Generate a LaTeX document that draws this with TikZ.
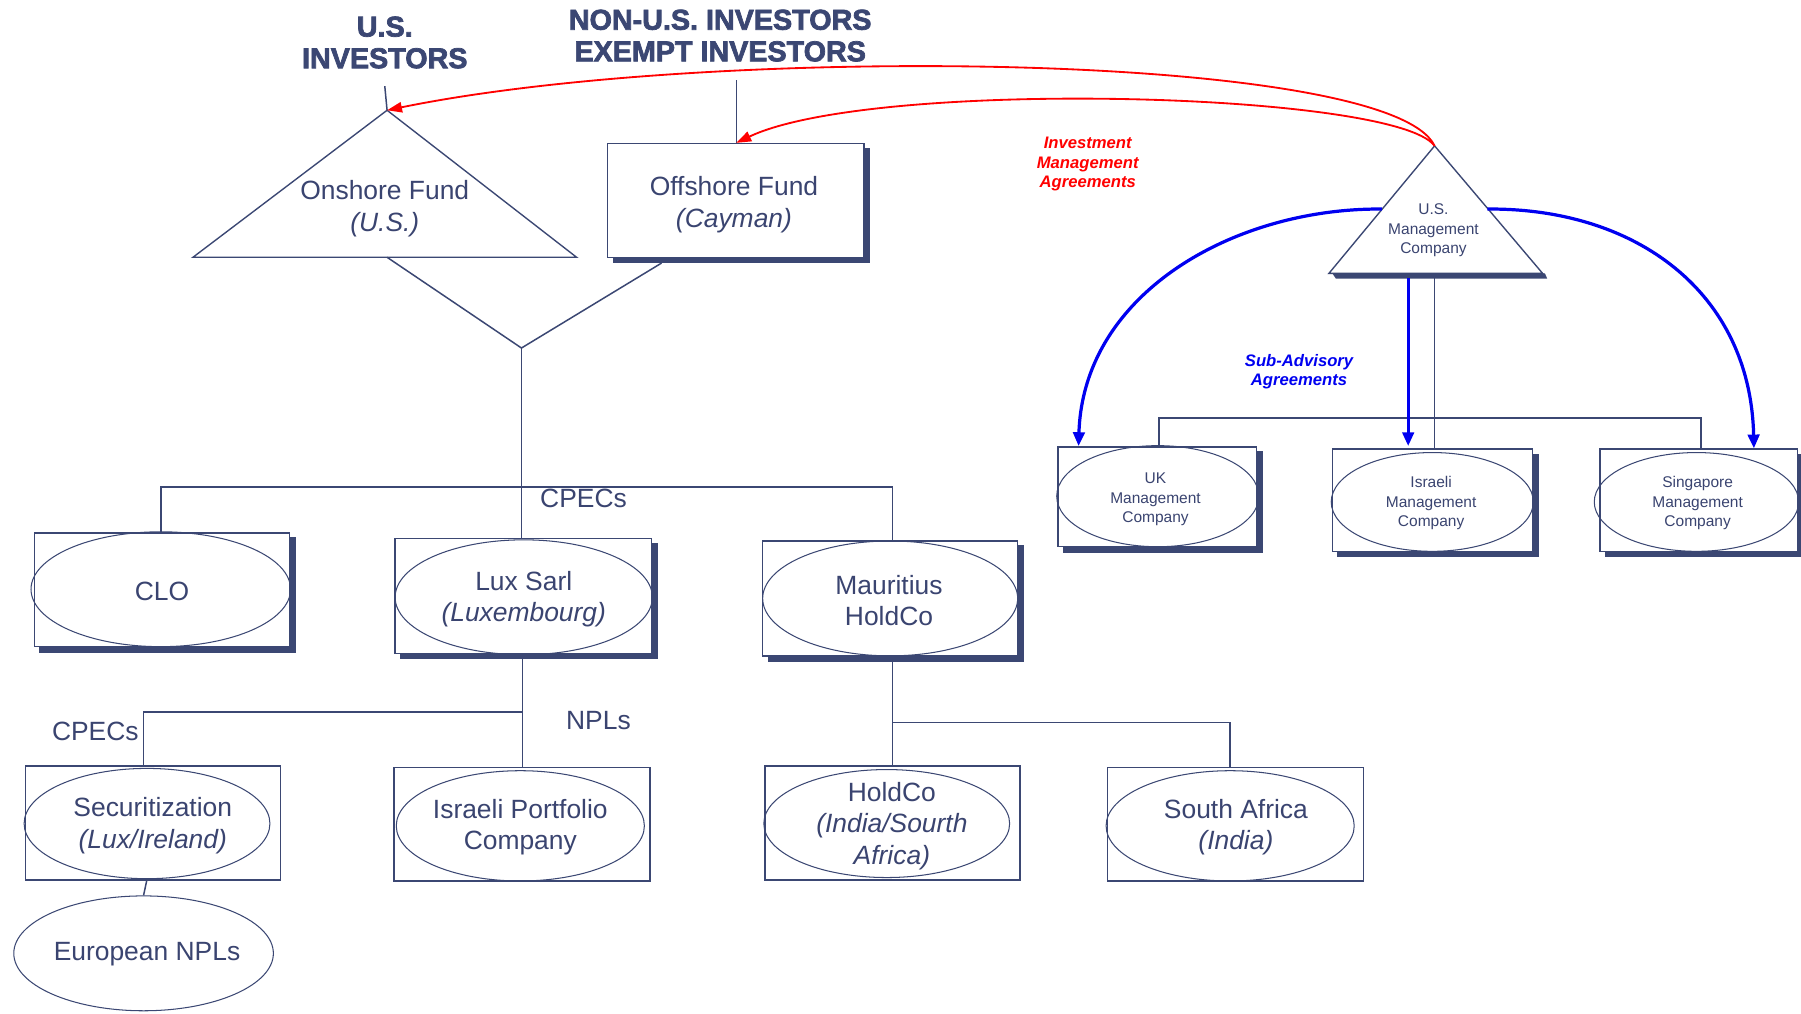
\documentclass[tikz,border=0pt]{standalone}
\usepackage{fontspec}
\setmainfont{Liberation Sans}
\newfontfamily\heavyfont[FakeBold=2.5]{Liberation Sans Bold}
\usetikzlibrary{shapes.geometric,shadows,arrows.meta}
\definecolor{navy}{HTML}{3B4773}
\definecolor{ink}{HTML}{3A4470}
\definecolor{agred}{HTML}{FF0000}
\definecolor{agblue}{HTML}{0000F0}
\begin{document}
\begin{tikzpicture}[x=1pt,y=-1pt,
  line/.style={draw=navy,line width=1.3pt},
  box/.style={draw=navy,line width=1.3pt,fill=white,inner sep=0pt},
  shbox/.style={box,copy shadow={shadow xshift=5pt,shadow yshift=-4.5pt,draw=navy,fill=navy}},
  oval/.style={ellipse,draw=navy,line width=0.9pt,inner sep=0pt},
  body/.style={align=center,text=ink,inner sep=0pt,font=\fontsize{23}{27.5}\selectfont},
  small/.style={body,font=\fontsize{13.5}{17}\selectfont},
  title/.style={align=center,text=navy,inner sep=0pt,font=\heavyfont\fontsize{25}{27.5}\selectfont},
  redlbl/.style={align=center,text=agred,inner sep=0pt,font=\bfseries\itshape\fontsize{14.5}{17}\selectfont},
  bluelbl/.style={align=center,text=agblue,inner sep=0pt,font=\bfseries\itshape\fontsize{14.5}{16.5}\selectfont},
  imarrow/.style={draw=agred,line width=1.6pt,-{Triangle[length=13pt,width=9pt]}},
  saarrow/.style={draw=agblue,line width=2.8pt,-{Triangle[length=12pt,width=10pt]}}
]
\useasboundingbox[fill=white] (0,0) rectangle (1568,882);

% ---------- investor headings ----------
\node[title] (usinv) at (335,37) {U.S.\\INVESTORS};
\node[title] (nonus) at (627,31) {NON-U.S. INVESTORS\\EXEMPT INVESTORS};

% ---------- onshore fund (triangle) ----------
\coordinate (onA) at (337,96);
\coordinate (onL) at (168,224);
\coordinate (onR) at (502,224);
\coordinate (onB) at (337,224);
\draw[line,line width=1.2pt] (onA) -- (onL) -- (onR) -- cycle;
\node[body] (on) at (335,181.5) {Onshore Fund\\\textit{(U.S.)}};
\coordinate (usTop) at (335,75);
\draw[line] (usTop) -- (onA);

% ---------- offshore fund ----------
\node[shbox,minimum width=223pt,minimum height=99pt] (off) at (640.5,174.5) {};
\node[body] (offt) at (639,178) {Offshore Fund\\\textit{(Cayman)}};
\coordinate (nonTop) at (641,70);
\draw[line] (nonTop) -- (off.north -| nonTop);
\coordinate (offB) at (576,229);

% ---------- feeder junction ----------
\coordinate (join) at (454,303);
\draw[line] (onB) -- (join) -- (offB);

% ---------- first tier ----------
\node[shbox,minimum width=222pt,minimum height=99pt] (clo) at (141,513.5) {};
\node[oval,minimum width=226pt,minimum height=100pt] (cloE) at (140,513) {};
\node[body] (cloT) at (141,514.5) {CLO};

\node[shbox,minimum width=223pt,minimum height=100pt] (lux) at (455.5,519) {};
\node[oval,minimum width=224pt,minimum height=100pt] (luxE) at (456,520) {};
\node[body] (luxT) at (456,521.5) {Lux Sarl\\\textit{(Luxembourg)}};

\node[shbox,minimum width=222pt,minimum height=100pt] (maur) at (775,521) {};
\node[oval,minimum width=222pt,minimum height=100pt] (maurE) at (775,521) {};
\node[body] (maurT) at (774,523) {Mauritius\\HoldCo};

\draw[line] (join) -- (join |- lux.north);
\draw[line] (clo.north -| 140,0) -- (140,424) -- (777,424) -- (777,471);
\node[body] (cpec1) at (508,434) {CPECs};

% ---------- below Lux Sarl ----------
\node[box,minimum width=222pt,minimum height=99pt] (sec) at (133,716.5) {};
\node[oval,minimum width=214pt,minimum height=96pt] (secE) at (128,717) {};
\node[body] (secT) at (133,719) {Securitization\\\textit{(Lux/Ireland)}};

\node[oval,minimum width=226pt,minimum height=100pt] (eu) at (125,830) {};
\node[body] (euT) at (128,831) {European NPLs};

\node[box,minimum width=223pt,minimum height=99pt] (isr) at (454.5,717.5) {};
\node[oval,minimum width=216pt,minimum height=96pt] (isrE) at (453,719) {};
\node[body] (isrT) at (453,720) {Israeli Portfolio\\Company};

\coordinate (b2) at (455,620);
\coordinate (secIn) at (125,667);
\draw[line] (455,573) -- (b2) -- (b2 -| secIn) -- (secIn);
\draw[line] (b2) -- (isr.north -| b2);
\draw[line] (secE.south) -- (eu.north);
\node[body] (cpec2) at (83,637) {CPECs};
\node[body] (npl) at (521,627) {NPLs};

% ---------- below Mauritius ----------
\node[box,minimum width=222pt,minimum height=99pt] (hold) at (777,716.5) {};
\node[oval,minimum width=214pt,minimum height=94pt] (holdE) at (772,717) {};
\node[body] (holdT) at (776.5,719) {HoldCo\\\textit{(India/Sourth}\\\textit{Africa)}};

\node[box,minimum width=223pt,minimum height=99pt] (sa) at (1075.5,717.5) {};
\node[oval,minimum width=216pt,minimum height=96pt] (saE) at (1071,719) {};
\node[body] (saT) at (1076,720) {South Africa\\\textit{(India)}};

\coordinate (b3) at (777,629);
\draw[line] (777,575) -- (777,667);
\draw[line] (b3) -| (sa.north -| 1071,0);

% ---------- U.S. management company ----------
\coordinate (usmA) at (1249,127);
\coordinate (usmL) at (1157,238);
\coordinate (usmR) at (1343,238);
\fill[navy] (1160,238) -- (1345,238) -- (1347,242.5) -- (1163,242.5) -- cycle;
\draw[line,line width=1.2pt,fill=white] (usmA) -- (usmL) -- (usmR) -- cycle;
\node[small] (usm) at (1248,200.5) {U.S.\\Management\\Company};

% ---------- sub-advisers ----------
\node[shbox,minimum width=173pt,minimum height=87pt] (uk) at (1007.5,432.5) {};
\node[oval,minimum width=176pt,minimum height=88pt] (ukE) at (1008,432) {};
\node[small] (ukT) at (1006,435) {UK\\Management\\Company};

\node[shbox,minimum width=174pt,minimum height=89pt] (ism) at (1247,435.5) {};
\node[oval,minimum width=176pt,minimum height=86pt] (ismE) at (1247,437) {};
\node[small] (ismT) at (1246,438) {Israeli\\Management\\Company};

\node[shbox,minimum width=172pt,minimum height=89pt] (sg) at (1479,435.5) {};
\node[oval,minimum width=178pt,minimum height=86pt] (sgE) at (1477,437) {};
\node[small] (sgT) at (1478,438) {Singapore\\Management\\Company};

\coordinate (usmB) at (1249,242);
\draw[line,line width=1.2pt] (usmB) -- (ism.north -| usmB);
\draw[line,line width=1.2pt] (uk.north -| 1009,0) -- (1009,364) -- (1481,364) -- (sg.north -| 1481,0);

% ---------- agreements ----------
\coordinate (saL) at (1203,182);
\coordinate (saR) at (1295,182);
\coordinate (saM) at (1226,242);
\draw[saarrow] (saL) .. controls (1075,181) and (943,255) .. (uk.north -| 939,0);
\draw[saarrow] (saR) .. controls (1425,181) and (1524,255) .. (sg.north -| 1527,0);
\draw[saarrow] (saM) -- (uk.north -| saM);

\draw[imarrow] (usmA) .. controls (1210,45) and (620,38) .. (onA);
\draw[imarrow] (usmA) .. controls (1215,80) and (760,68) .. (off.north -| nonTop);

\node[redlbl] (ima) at (947,143) {Investment\\Management\\Agreements};
\node[bluelbl] (saa) at (1131,324) {Sub-Advisory\\Agreements};
\end{tikzpicture}
\end{document}
